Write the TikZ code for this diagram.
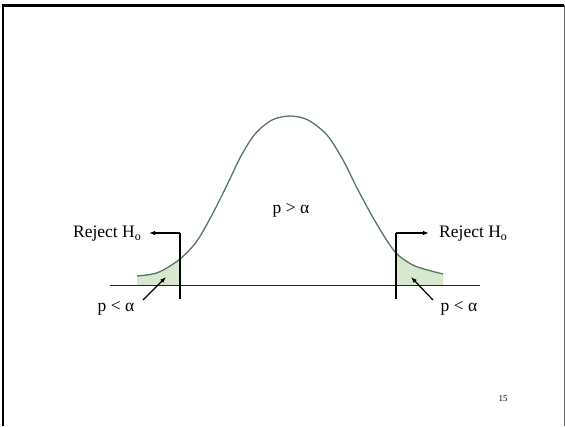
\documentclass[tikz,border=0pt]{standalone}
\usepackage{fontspec}
\setmainfont{Liberation Serif}
\usetikzlibrary{arrows.meta}
\definecolor{curvecol}{RGB}{88,118,96}
\definecolor{tailcol}{RGB}{216,232,208}
\tikzset{
  lbl/.style={inner sep=0pt, font=\fontsize{17.5}{20}\selectfont},
  conn/.style={line width=1.2pt, -{Latex[length=6pt,width=4.5pt]}},
  guide/.style={line width=1.2pt},
  base/.style={line width=1pt, black!85},
  bell/.style={line width=1.3pt, curvecol},
}
\newcommand{\subo}{\raisebox{-0.35ex}{\fontsize{12}{12}\selectfont o}}
\begin{document}
\begin{tikzpicture}[x=1pt,y=-1pt]
\useasboundingbox (0,0) rectangle (565,426);
% slide frame
\draw[line width=2.8pt, black] (3,426) -- (3,5.3) -- (564,5.3);
\draw[line width=1pt, black!60] (564,5.3) -- (564,426);
% tails
\begin{scope}
\clip (137,100) rectangle (180,285) (396,100) rectangle (443,285);
\fill[tailcol] plot[smooth] coordinates {(137,276) (158,272.5) (180,259) (197,241) (213,213) (228,183) (241,156) (255,134) (272,120) (290,116) (308,120) (327,135) (343,160) (357,188) (371,214) (384,236) (397,254) (415,266) (443,274)} -- (443,285) -- (137,285) -- cycle;
\end{scope}
% bell curve
\draw[bell] plot[smooth] coordinates {(137,276) (158,272.5) (180,259) (197,241) (213,213) (228,183) (241,156) (255,134) (272,120) (290,116) (308,120) (327,135) (343,160) (357,188) (371,214) (384,236) (397,254) (415,266) (443,274)};
% baseline
\coordinate (b1) at (110,285);
\coordinate (b2) at (480,285);
\draw[base] (b1) -- (b2);
% labels
\node[lbl, anchor=east] (lrej) at (141,234) {Reject H\subo};
\node[lbl, anchor=west] (rrej) at (439,234) {Reject H\subo};
\node[lbl] (lp) at (116,308) {p {<} α};
\node[lbl] (rp) at (459,308) {p {<} α};
\node[lbl] (cp) at (291,210) {p {>} α};
\node[inner sep=0pt, font=\fontsize{9}{10}\selectfont] (pg) at (503,399) {15};
% critical lines with arrows
\coordinate (lbot) at (180,299);
\coordinate (rbot) at (396,299);
\draw[guide] (lbot) -- (180,233);
\draw[conn] (180,233) -- ([xshift=8pt]lrej.east |- 0,233);
\draw[guide] (rbot) -- (396,233);
\draw[conn] (396,233) -- ([xshift=-10pt]rrej.west |- 0,233);
% p < alpha pointers
\coordinate (la1) at (143,300);
\coordinate (la2) at (166,277);
\coordinate (ra1) at (433,300);
\coordinate (ra2) at (411,277);
\draw[conn] (la1) -- (la2);
\draw[conn] (ra1) -- (ra2);
\end{tikzpicture}
\end{document}
